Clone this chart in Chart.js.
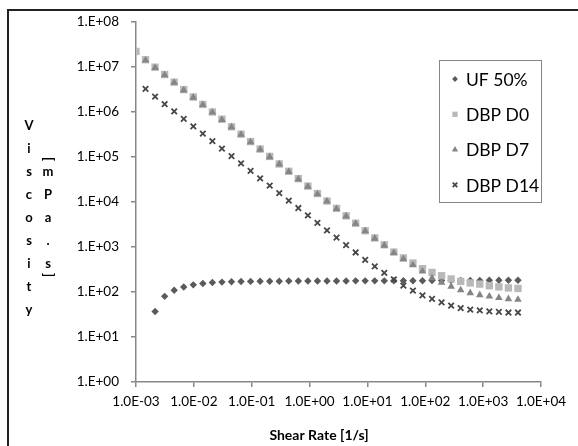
<!DOCTYPE html>
<html><head><meta charset="utf-8">
<script src="https://cdn.jsdelivr.net/npm/chart.js@4.4.0/dist/chart.umd.min.js"></script>
<style>html,body{margin:0;padding:0;background:#fff;}canvas{display:block;}</style>
</head><body>
<canvas id="c" width="578" height="446"></canvas>
<script>
const shearRate = [0.001, 0.001462, 0.002138, 0.003127, 0.004573, 0.006688, 0.009779, 0.0143, 0.02091, 0.03058,
  0.04472, 0.0654, 0.09563, 0.1398, 0.2045, 0.2991, 0.4373, 0.6395, 0.9352, 1.368,
  2.0, 2.925, 4.277, 6.255, 9.147, 13.38, 19.56, 28.6, 41.83, 61.16,
  89.44, 130.8, 191.3, 279.7, 409.0, 598.2, 874.7, 1279, 1871, 2735, 4000];
const uf50 = [null, null, 37, 80, 109, 129, 144, 155, 162, 166,
  169, 171, 172, 173, 174, 174, 175, 175, 175, 176,
  176, 176, 176, 177, 177, 177, 177, 178, 178, 178,
  178, 179, 179, 180, 180, 181, 181, 182, 182, 182, 183];
const dbpD0 = [2.22e7, 1.45e7, 9.9e6, 6.8e6, 4.6e6, 3.15e6, 2.15e6, 1.47e6, 1.0e6, 6.9e5,
  4.7e5, 3.22e5, 2.2e5, 1.5e5, 1.03e5, 7.0e4, 4.8e4, 3.3e4, 2.25e4, 1.54e4,
  1.05e4, 7200, 4920, 3370, 2300, 1590, 1120, 770, 570, 440,
  330, 272, 230, 195, 172, 159, 150, 138, 130, 123, 120];
const dbpD7 = [null, 1.4e7, 9.6e6, 6.6e6, 4.5e6, 3.05e6, 2.1e6, 1.44e6, 9.8e5, 6.7e5,
  4.6e5, 3.15e5, 2.15e5, 1.47e5, 1.0e5, 6.9e4, 4.7e4, 3.2e4, 2.2e4, 1.5e4,
  1.03e4, 7050, 4830, 3300, 2250, 1550, 1080, 740, 541, 395,
  287, 205, 163, 133, 110, 95, 86, 80, 74, 70, 68];
const dbpD14 = [null, 3.25e6, 2.2e6, 1.5e6, 1.03e6, 7.0e5, 4.8e5, 3.3e5, 2.25e5, 1.54e5,
  1.05e5, 7.2e4, 4.9e4, 3.35e4, 2.3e4, 1.57e4, 1.07e4, 7350, 5030, 3440,
  2350, 1610, 1100, 755, 520, 372, 265, 190, 138, 107,
  84, 70, 59, 50, 44, 40.5, 39, 37, 36, 35, 35];
const seriesNames = ['UF 50%', 'DBP D0', 'DBP D7', 'DBP D14'];
const xTicks = [1e-3, 1e-2, 1e-1, 1, 10, 100, 1000, 10000];
const xTickLabels = ['1.0E-03', '1.0E-02', '1.0E-01', '1.0E+00', '1.0E+01', '1.0E+02', '1.0E+03', '1.0E+04'];
const yTicks = [1, 10, 100, 1e3, 1e4, 1e5, 1e6, 1e7, 1e8];
const yTickLabels = ['1.E+00', '1.E+01', '1.E+02', '1.E+03', '1.E+04', '1.E+05', '1.E+06', '1.E+07', '1.E+08'];
const yTitleLeft = 'Viscosity';
const yTitleRight = '[mPa.s]';
const xTitle = 'Shear Rate [1/s]';

const FONT = 'Lato, "Open Sans", sans-serif';
const toPts = arr => shearRate.map((x, i) => ({x: x, y: arr[i]})).filter(p => p.y !== null);

const styles = [
  {pointStyle: 'rectRot', pointRadius: 3.7, color: '#5a5a5a', borderWidth: 0, order: 3, legendR: 2.9},
  {pointStyle: 'rect', pointRadius: 5.2, color: '#b9b9b9', borderWidth: 0, order: 2, legendR: 3.8},
  {pointStyle: 'triangle', pointRadius: 4.4, color: '#858585', borderWidth: 0, order: 1, legendR: 3.6},
  {pointStyle: 'crossRot', pointRadius: 3.9, color: '#474747', borderWidth: 1.8, order: 0, legendR: 3.2}
];
const seriesData = [uf50, dbpD0, dbpD7, dbpD14];

const datasets = seriesNames.map((name, i) => ({
  label: name,
  data: toPts(seriesData[i]),
  pointStyle: styles[i].pointStyle,
  pointRadius: styles[i].pointRadius,
  pointBorderWidth: styles[i].borderWidth,
  backgroundColor: styles[i].color,
  borderColor: styles[i].color,
  showLine: false,
  order: styles[i].order
}));

const decor = {
  id: 'decor',
  afterDraw(chart) {
    const ctx = chart.ctx;
    ctx.save();
    // outer frame
    ctx.fillStyle = '#222';
    ctx.fillRect(7, 9, 571, 2);
    ctx.fillRect(7, 9, 2, 437);
    // y title (stacked)
    ctx.fillStyle = '#000';
    ctx.font = 'bold 13px ' + FONT;
    ctx.textAlign = 'center';
    ctx.textBaseline = 'middle';
    for (let i = 0; i < yTitleLeft.length; i++) {
      ctx.fillText(yTitleLeft[i], 29, 126 + 23 * i);
    }
    const inner = yTitleRight.slice(1, -1);
    for (let i = 0; i < inner.length; i++) {
      ctx.fillText(inner[i], 48, 172 + 23 * i);
    }
    [[yTitleRight[0], 159], [yTitleRight[yTitleRight.length - 1], 275]].forEach(([ch, y]) => {
      ctx.save();
      ctx.translate(48, y);
      ctx.rotate(Math.PI / 2);
      ctx.fillText(ch, 0, 0);
      ctx.restore();
    });
    // x title
    ctx.font = 'bold 14px ' + FONT;
    ctx.fillText(xTitle, 319, 435);
    // legend
    ctx.strokeStyle = '#868686';
    ctx.lineWidth = 1;
    ctx.strokeRect(439.5, 60.5, 102, 142);
    ctx.font = '17.5px ' + FONT;
    ctx.textAlign = 'left';
    chart.data.datasets.forEach((ds, i) => {
      const y = 79 + 35.3 * i;
      ctx.fillStyle = ds.backgroundColor;
      ctx.strokeStyle = ds.borderColor;
      ctx.lineWidth = ds.pointBorderWidth || 1;
      Chart.helpers.drawPoint(ctx, {pointStyle: ds.pointStyle, radius: styles[i].legendR, rotation: 0, borderWidth: ds.pointBorderWidth}, 455, y);
      ctx.fillStyle = '#000';
      ctx.fillText(ds.label, 466, y + 1);
    });
    ctx.restore();
  }
};

new Chart(document.getElementById('c'), {
  type: 'scatter',
  data: {datasets},
  options: {
    responsive: false,
    animation: false,
    events: [],
    devicePixelRatio: 1,
    layout: {padding: {left: 0, top: 22, right: 37, bottom: 0}},
    plugins: {legend: {display: false}, tooltip: {enabled: false}},
    scales: {
      x: {
        type: 'logarithmic', min: 1e-3, max: 1e4,
        afterBuildTicks: s => { s.ticks = xTicks.map(v => ({value: v})); },
        afterFit: s => { s.height = 64; },
        ticks: {autoSkip: false, maxRotation: 0, minRotation: 0, padding: 7, color: '#000',
          font: {family: FONT, size: 13.5}, callback: (v, i) => xTickLabels[i]},
        grid: {drawOnChartArea: false, drawTicks: true, tickLength: 5, color: '#878787', lineWidth: 1.5},
        border: {color: '#878787', width: 1.5}
      },
      y: {
        type: 'logarithmic', min: 1, max: 1e8,
        afterBuildTicks: s => { s.ticks = yTicks.map(v => ({value: v})); },
        afterFit: s => { s.width = 136; },
        ticks: {autoSkip: false, padding: 12, color: '#000',
          font: {family: FONT, size: 13.5}, callback: (v, i) => yTickLabels[i]},
        grid: {drawOnChartArea: false, drawTicks: true, tickLength: 5, color: '#878787', lineWidth: 1.5},
        border: {color: '#878787', width: 1.5}
      }
    }
  },
  plugins: [decor]
});
</script>
</body></html>
